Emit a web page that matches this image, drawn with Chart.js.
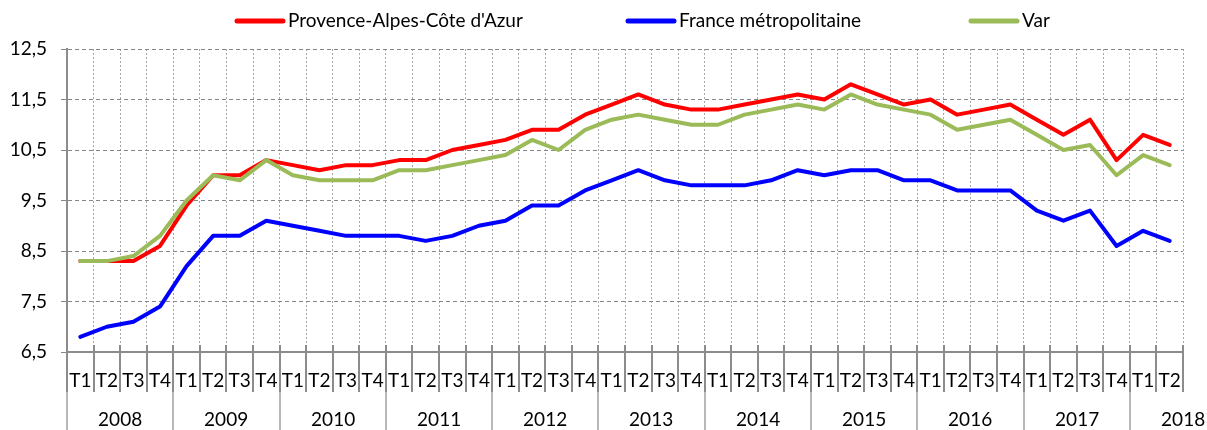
<!DOCTYPE html>
<html>
<head>
<meta charset="utf-8">
<script src="https://cdn.jsdelivr.net/npm/chart.js@4/dist/chart.umd.min.js"></script>
<style>
  html, body { margin: 0; background: #fff; }
  #wrap { width: 1207px; height: 430px; }
</style>
</head>
<body>
<div id="wrap"><canvas id="chomage"></canvas></div>
<script>
// quarters 2008 T1 -> 2018 T2
const years = ['2008', '2009', '2010', '2011', '2012', '2013', '2014', '2015', '2016', '2017', '2018'];
const quartersPerYear = [4, 4, 4, 4, 4, 4, 4, 4, 4, 4, 2];
const quarterNames = ['T1', 'T2', 'T3', 'T4'];

const paca = [8.3, 8.3, 8.3, 8.6, 9.4, 10.0, 10.0, 10.3, 10.2, 10.1, 10.2, 10.2,
  10.3, 10.3, 10.5, 10.6, 10.7, 10.9, 10.9, 11.2, 11.4, 11.6, 11.4, 11.3,
  11.3, 11.4, 11.5, 11.6, 11.5, 11.8, 11.6, 11.4, 11.5, 11.2, 11.3, 11.4,
  11.1, 10.8, 11.1, 10.3, 10.8, 10.6];
const franceMetro = [6.8, 7.0, 7.1, 7.4, 8.2, 8.8, 8.8, 9.1, 9.0, 8.9, 8.8, 8.8,
  8.8, 8.7, 8.8, 9.0, 9.1, 9.4, 9.4, 9.7, 9.9, 10.1, 9.9, 9.8,
  9.8, 9.8, 9.9, 10.1, 10.0, 10.1, 10.1, 9.9, 9.9, 9.7, 9.7, 9.7,
  9.3, 9.1, 9.3, 8.6, 8.9, 8.7];
const varDep = [8.3, 8.3, 8.4, 8.8, 9.5, 10.0, 9.9, 10.3, 10.0, 9.9, 9.9, 9.9,
  10.1, 10.1, 10.2, 10.3, 10.4, 10.7, 10.5, 10.9, 11.1, 11.2, 11.1, 11.0,
  11.0, 11.2, 11.3, 11.4, 11.3, 11.6, 11.4, 11.3, 11.2, 10.9, 11.0, 11.1,
  10.8, 10.5, 10.6, 10.0, 10.4, 10.2];

const yTicks = [6.5, 7.5, 8.5, 9.5, 10.5, 11.5, 12.5];

const labels = [];
years.forEach((y, i) => {
  for (let q = 0; q < quartersPerYear[i]; q++) labels.push(quarterNames[q]);
});

const FONT = 'Lato';
const FONT_SIZE = 19;

// year row under the quarter labels + the legend, Excel style
const excelBits = {
  id: 'excelBits',
  afterDraw(chart) {
    const { ctx, chartArea } = chart;
    const x = chart.scales.x;
    const half = (x.getPixelForValue(1) - x.getPixelForValue(0)) / 2;
    const first = x.getPixelForValue(0) - half;
    const bottom = chartArea.bottom;
    ctx.save();

    // tick marks between quarters
    ctx.strokeStyle = '#8c8c8c';
    ctx.lineWidth = 2;
    for (let i = 0; i <= labels.length; i++) {
      const px = Math.round(first + i * 2 * half);
      ctx.beginPath();
      ctx.moveTo(px, bottom - 7);
      ctx.lineTo(px, bottom + 40);
      ctx.stroke();
    }

    // year separators and year labels
    ctx.font = FONT_SIZE + 'px ' + FONT;
    ctx.fillStyle = '#000';
    ctx.textAlign = 'center';
    ctx.textBaseline = 'middle';
    let idx = 0;
    years.forEach((yr, k) => {
      const left = Math.round(first + idx * 2 * half);
      ctx.strokeStyle = '#a0a0a0';
      ctx.lineWidth = 1.5;
      ctx.beginPath();
      ctx.moveTo(left, bottom + 40);
      ctx.lineTo(left, chart.height);
      ctx.stroke();
      const n = quartersPerYear[k];
      // partial last year: label ends up on the right edge like in the source
      const cx = n < 4 ? left + 2 * n * half : left + n * half;
      ctx.fillText(yr, cx, bottom + 68);
      idx += n;
    });

    // legend
    const starts = [237, 628, 971];
    ctx.textAlign = 'left';
    chart.data.datasets.forEach((ds, i) => {
      const sx = starts[i];
      ctx.strokeStyle = ds.borderColor;
      ctx.lineWidth = 5;
      ctx.lineCap = 'round';
      ctx.beginPath();
      ctx.moveTo(sx, 21);
      ctx.lineTo(sx + 46, 21);
      ctx.stroke();
      ctx.fillStyle = '#000';
      ctx.fillText(ds.label, sx + 51, 21);
    });
    ctx.restore();
  }
};

new Chart(document.getElementById('chomage'), {
  type: 'line',
  data: {
    labels: labels,
    datasets: [
      { label: "Provence-Alpes-Côte d'Azur", data: paca, borderColor: '#ff0000', order: 2 },
      { label: 'France métropolitaine', data: franceMetro, borderColor: '#0000ff', order: 1 },
      { label: 'Var', data: varDep, borderColor: '#9bbb59', order: 0 }
    ]
  },
  options: {
    responsive: true,
    maintainAspectRatio: false,
    animation: false,
    layout: { padding: { top: 49, right: 24, bottom: 0, left: 0 } },
    elements: {
      line: { borderWidth: 4, tension: 0, borderJoinStyle: 'round', borderCapStyle: 'round', fill: false },
      point: { radius: 0 }
    },
    plugins: {
      legend: { display: false },
      tooltip: { enabled: false }
    },
    scales: {
      x: {
        offset: true,
        grid: { offset: true, color: '#a6a6a6', lineWidth: 1, drawTicks: false },
        border: { color: '#8c8c8c', width: 2, dash: [2, 2] },
        ticks: {
          color: '#000',
          font: { family: FONT, size: FONT_SIZE },
          padding: 17,
          maxRotation: 0,
          autoSkip: false
        },
        afterFit: s => { s.height = 78; }
      },
      y: {
        min: 6.5,
        max: 12.5,
        afterBuildTicks: s => { s.ticks = yTicks.map(v => ({ value: v })); },
        grid: { color: '#868686', lineWidth: 1, tickLength: 6, tickColor: '#868686' },
        border: { color: '#8c8c8c', width: 2, dash: [4, 3] },
        ticks: {
          color: '#000',
          font: { family: FONT, size: FONT_SIZE },
          padding: 14,
          callback: v => v.toFixed(1).replace('.', ',')
        },
        afterFit: s => { s.width = 67; }
      }
    }
  },
  plugins: [excelBits]
});
</script>
</body>
</html>
